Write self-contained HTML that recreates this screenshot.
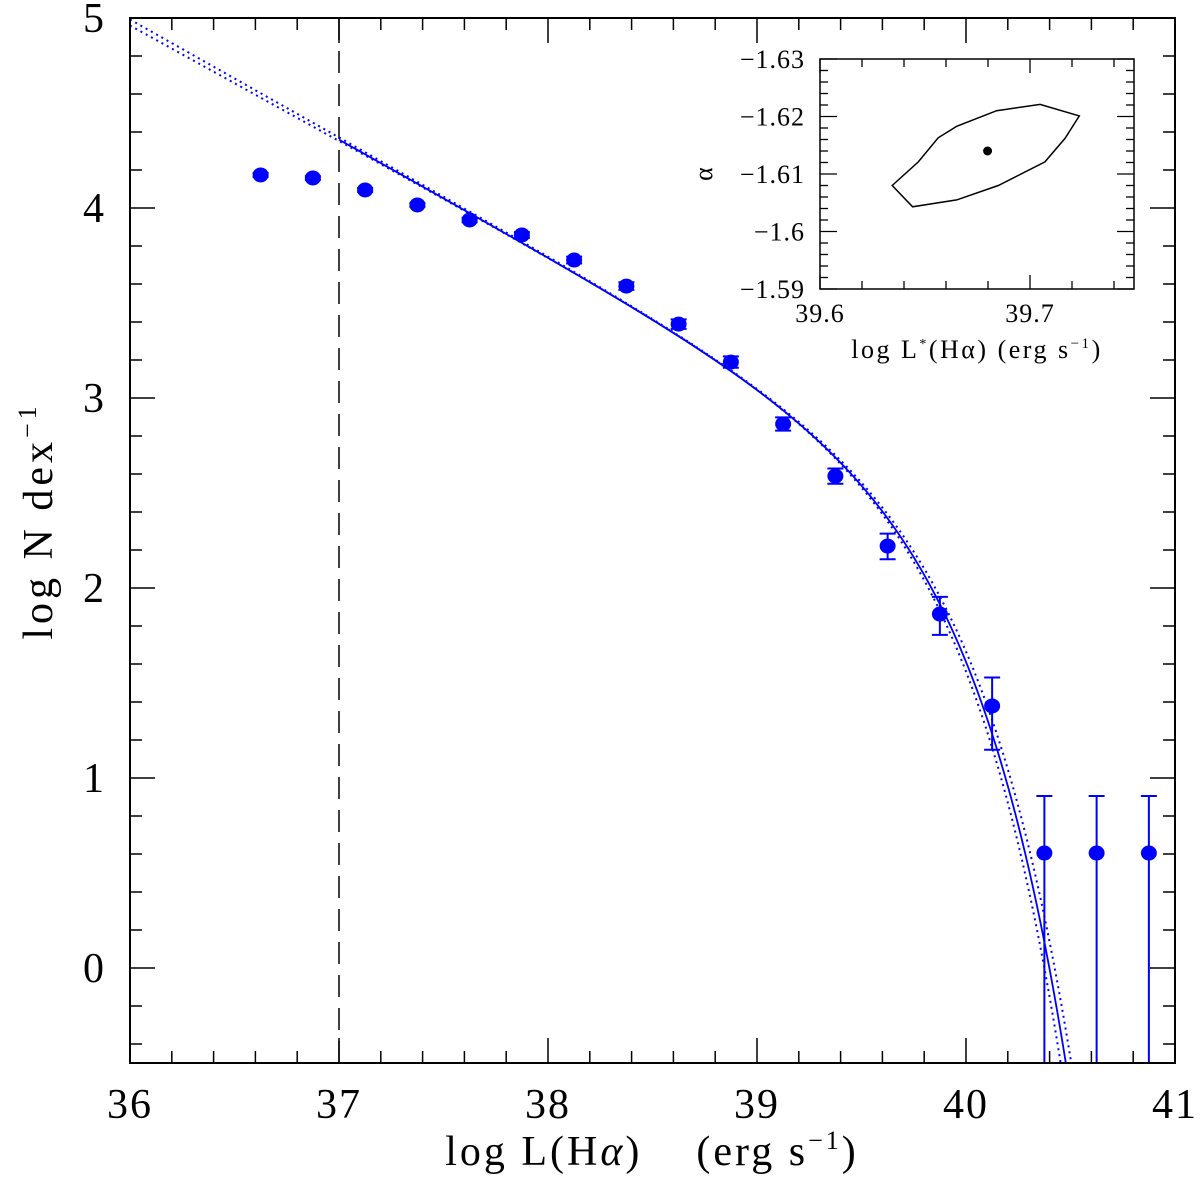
<!DOCTYPE html>
<html><head><meta charset="utf-8"><style>
html,body{margin:0;background:#fff;overflow:hidden;width:1200px;height:1196px}
svg{display:block;font-family:"Liberation Serif",serif}
</style></head><body>
<svg id="chart" width="1200" height="1196" viewBox="0 0 1200 1196" xmlns="http://www.w3.org/2000/svg">
<g id="main"></g>
<g id="inset"></g>
<text x="652" y="1165" font-size="42" letter-spacing="3" text-anchor="middle" xml:space="preserve" style="white-space:pre">log L(H<tspan font-style="italic">α</tspan>)    (erg s<tspan font-size="26" dy="-16">−1</tspan><tspan dy="16">)</tspan></text>
<text transform="translate(52,521) rotate(-90)" font-size="42" letter-spacing="4" text-anchor="middle">log N dex<tspan font-size="26" dy="-16">−1</tspan></text>
<text x="977" y="358" font-size="26" letter-spacing="2.5" text-anchor="middle">log L<tspan font-size="14" dy="-10">*</tspan><tspan dy="10">(Hα) (erg s</tspan><tspan font-size="15" dy="-10">−1</tspan><tspan dy="10">)</tspan></text>
<text transform="translate(712,174) rotate(-90)" font-size="26" text-anchor="middle">α</text>
</svg>
<script>
// main data
const logL = [36.625,36.875,37.125,37.375,37.625,37.875,38.125,38.375,38.625,38.875,39.125,39.375,39.625,39.875,40.125,40.375,40.625,40.875];
const logN = [4.174,4.158,4.095,4.016,3.937,3.858,3.726,3.589,3.389,3.189,2.863,2.589,2.221,1.863,1.379,0.605,0.605,0.605];
const errHi = [0.01,0.01,0.01,0.01,0.012,0.015,0.018,0.02,0.025,0.03,0.035,0.04,0.065,0.09,0.15,0.30,0.30,0.30];
const errLo = [0.01,0.01,0.01,0.01,0.012,0.015,0.018,0.02,0.025,0.03,0.035,0.04,0.07,0.11,0.23,9,9,9];
const xTicks = [36,37,38,39,40,41];
const yTicks = [0,1,2,3,4,5];
// Schechter fits: [logLstar, alpha, logPhiConst, startX]
const fitSolid = [39.68,-1.614,2.715,37];
const fitDot1 = [39.65,-1.607,2.745,36];
const fitDot2 = [39.71,-1.620,2.692,36];
const cutoff = 37;
// inset data
const contourL = [39.6344,39.6441,39.6651,39.6849,39.7071,39.7167,39.7235,39.7048,39.6841,39.6651,39.6563,39.6468];
const contourA = [-1.6080,-1.6043,-1.6055,-1.6080,-1.6121,-1.6162,-1.6201,-1.6221,-1.6210,-1.6183,-1.6163,-1.6121];
const bestL = [39.6798];
const bestA = [-1.6140];
const insetXTicks = [39.6,39.7];
const insetYTicks = [-1.63,-1.62,-1.61,-1.6,-1.59];

const NS='http://www.w3.org/2000/svg';
function mk(parent,tag,attrs){const e=document.createElementNS(NS,tag);for(const k in attrs)e.setAttribute(k,attrs[k]);parent.appendChild(e);return e;}
const X0=130,X1=1175,Y0=18,Y1=1063;
const sx=v=>X0+(v-36)/5*(X1-X0);
const sy=v=>Y1-(v+0.5)/5.5*(Y1-Y0);
const main=document.getElementById('main');
const defs=mk(main,'defs',{});
const cp=mk(defs,'clipPath',{id:'clipMain'});mk(cp,'rect',{x:X0,y:Y0,width:X1-X0,height:Y1-Y0});
const tg=mk(main,'g',{stroke:'#000','stroke-width':1.5});


for(let i=0;i<=25;i++){const v=36+i*0.2,x=sx(v),L=(i%5==0)?25:12;
 mk(tg,'line',{x1:x,y1:Y1,x2:x,y2:Y1-L});mk(tg,'line',{x1:x,y1:Y0,x2:x,y2:Y0+L});}
for(let i=0;i<=27;i++){const v=-0.4+i*0.2,y=sy(v);const maj=Math.abs(v-Math.round(v))<1e-6,L=maj?25:12;
 mk(tg,'line',{x1:X0,y1:y,x2:X0+L,y2:y});mk(tg,'line',{x1:X1,y1:y,x2:X1-L,y2:y});}
xTicks.forEach(v=>{const t=mk(main,'text',{x:sx(v),y:1118,'font-size':42,'text-anchor':'middle','letter-spacing':2});t.textContent=v;
 
 });
yTicks.forEach(v=>{const t=mk(main,'text',{x:104,y:sy(v)+14,'font-size':42,'text-anchor':'end'});t.textContent=v;
 
 });
const dl=mk(main,'line',{x1:sx(cutoff),y1:Y0,x2:sx(cutoff),y2:Y1,stroke:'#000','stroke-width':1.5,'stroke-dasharray':'22 11'});


function sch(p,x){return p[2]+(p[1]+1)*(x-p[0])-Math.pow(10,x-p[0])/Math.LN10;}
function curve(p,dash,name){let d='';for(let x=p[3];x<=41;x+=0.005){const y=sch(p,x);d+=(d?'L':'M')+sx(x).toFixed(2)+','+sy(y).toFixed(2);if(y<-0.6)break;}
 const a={d:d,fill:'none',stroke:'#0000ff','stroke-width':dash?2:1.8,'clip-path':'url(#clipMain)'};if(dash)a['stroke-dasharray']='2 4';
 const e=mk(main,'path',a);
 
 }
curve(fitDot1,true,'fit-lower-bound');curve(fitDot2,true,'fit-upper-bound');curve(fitSolid,false,'schechter-fit');
const pg=mk(main,'g',{'clip-path':'url(#clipMain)'});
logL.forEach((v,i)=>{const x=sx(v),y=sy(logN[i]);const yh=sy(logN[i]+errHi[i]),yl=sy(logN[i]-errLo[i]);
 const g=mk(pg,'g',{stroke:'#0000ff','stroke-width':2,fill:'#0000ff'});
 
 
 mk(g,'line',{x1:x,y1:yh,x2:x,y2:yl});mk(g,'line',{x1:x-8,y1:yh,x2:x+8,y2:yh});mk(g,'line',{x1:x-8,y1:yl,x2:x+8,y2:yl});
 mk(g,'ellipse',{cx:x,cy:y,rx:8,ry:7.5,stroke:'none'});});
mk(main,'rect',{x:X0,y:Y0,width:X1-X0,height:Y1-Y0,fill:'none',stroke:'#000','stroke-width':2});
const ins=document.getElementById('inset');
const IX0=820,IX1=1134,IY0=59,IY1=289;
const ix=v=>IX0+(v-39.6)*2100;
const iy=v=>IY0+(v+1.63)/0.04*(IY1-IY0);
mk(ins,'rect',{x:IX0,y:IY0,width:IX1-IX0,height:IY1-IY0,fill:'#fff',stroke:'#000','stroke-width':1.5});
const itg=mk(ins,'g',{stroke:'#000','stroke-width':1.3});
for(let i=0;i<=7;i++){const x=ix(39.6+i*0.02),L=(i%5==0)?14:8;mk(itg,'line',{x1:x,y1:IY1,x2:x,y2:IY1-L});mk(itg,'line',{x1:x,y1:IY0,x2:x,y2:IY0+L});}
for(let i=0;i<=20;i++){const y=iy(-1.63+i*0.002),L=(i%5==0)?17:8;mk(itg,'line',{x1:IX0,y1:y,x2:IX0+L,y2:y});mk(itg,'line',{x1:IX1,y1:y,x2:IX1-L,y2:y});}
insetXTicks.forEach(v=>{const t=mk(ins,'text',{x:ix(v),y:322,'font-size':26,'text-anchor':'middle','letter-spacing':1});t.textContent=v.toFixed(1);
 
 });
insetYTicks.forEach(v=>{const t=mk(ins,'text',{x:805,y:iy(v)+9,'font-size':26,'text-anchor':'end','letter-spacing':1});t.textContent='−'+Math.abs(v).toString();
 
 });
const pts=contourL.map((v,i)=>ix(v).toFixed(1)+','+iy(contourA[i]).toFixed(1)).join(' ');
const poly=mk(ins,'polygon',{points:pts,fill:'none',stroke:'#000','stroke-width':1.5});


const bp=mk(ins,'circle',{cx:ix(bestL[0]),cy:iy(bestA[0]),r:4.5,fill:'#000'});


</script>
</body></html>
